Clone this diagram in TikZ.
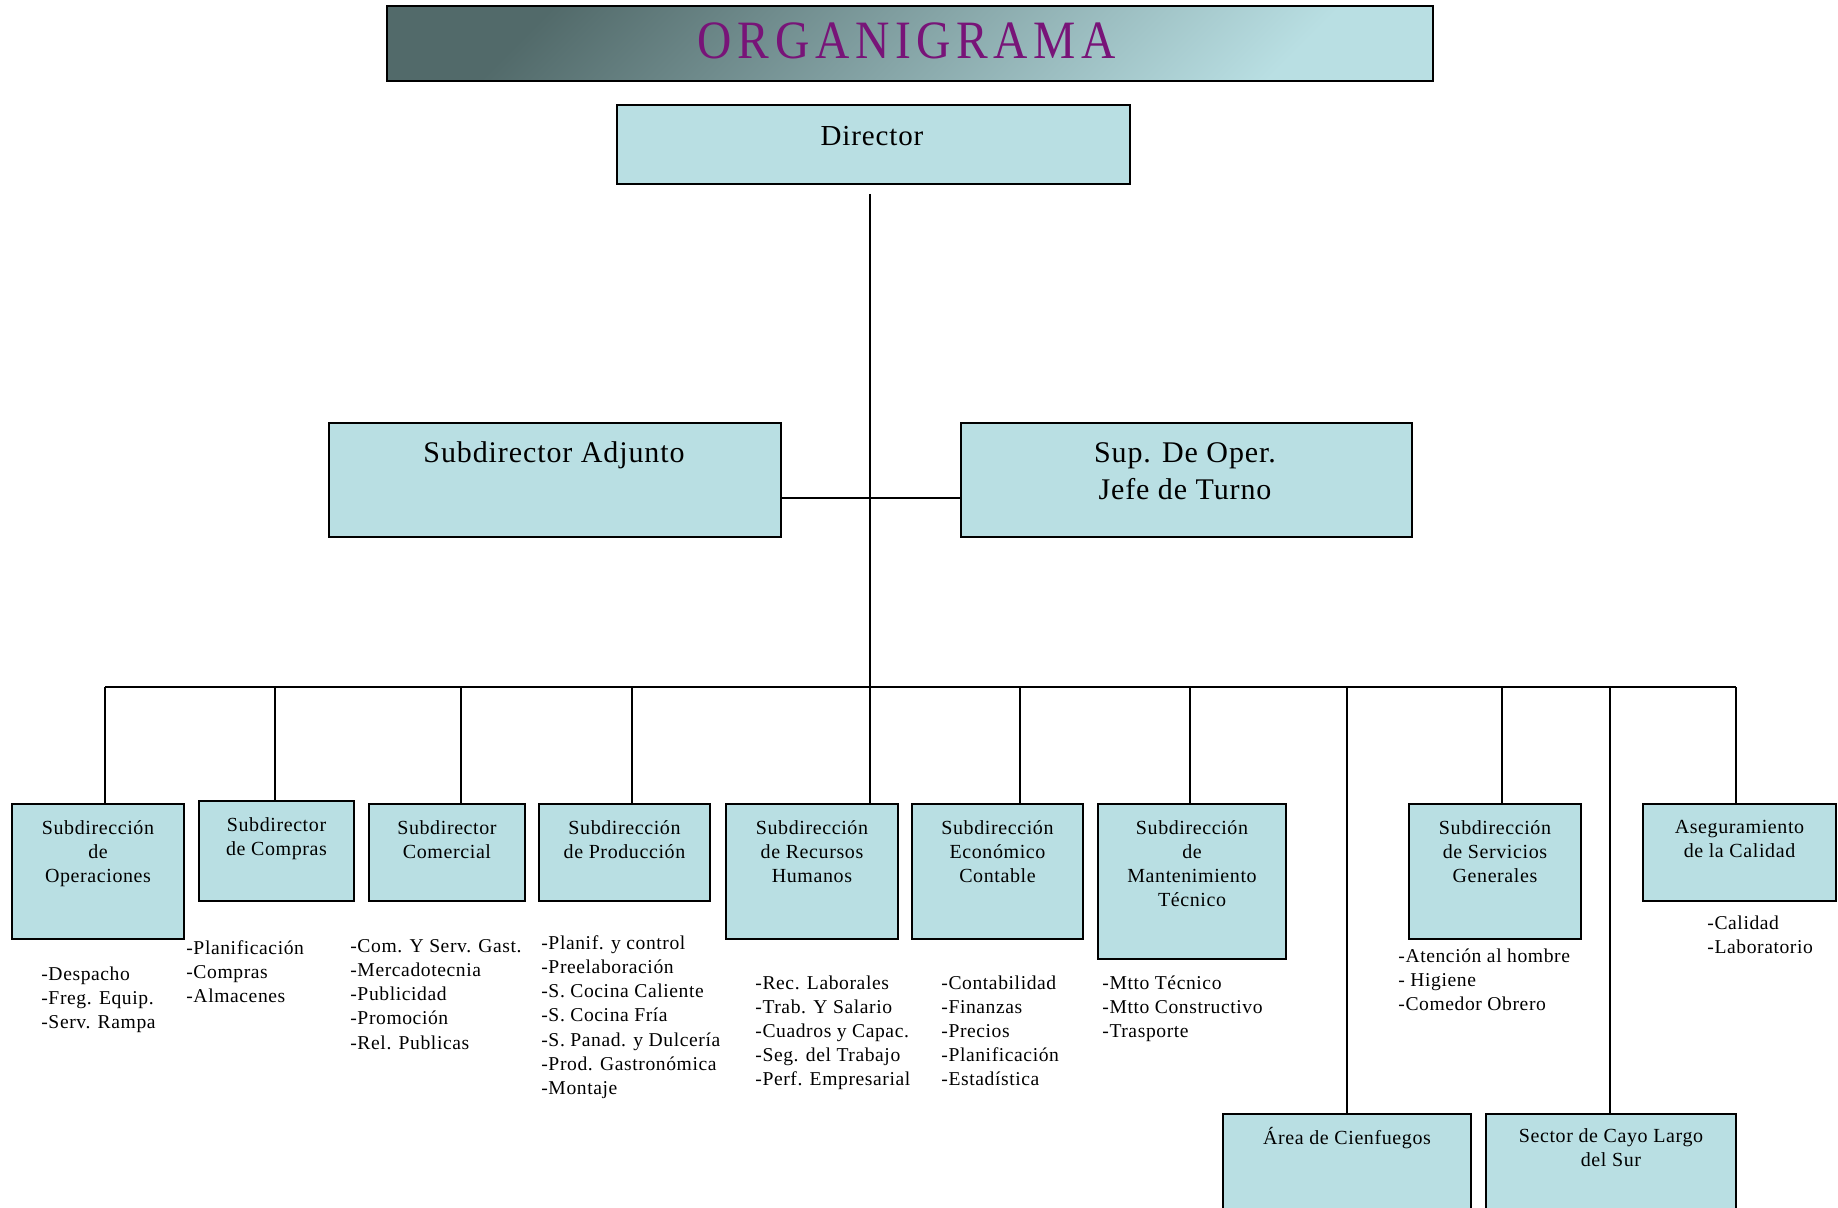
\documentclass[tikz,border=0pt]{standalone}
\usepackage{fontspec}
\setmainfont{Liberation Serif}[LetterSpace=3]
\definecolor{boxfill}{RGB}{185,223,227}
\definecolor{bannerdark}{RGB}{82,106,106}
\definecolor{bannertext}{RGB}{120,20,120}
\tikzset{
  unit/.style    = {draw, fill=boxfill, line width=1pt, anchor=north west,
                    inner sep=0pt},
  dims/.style 2 args = {minimum width=#1*0.5pt, minimum height=#2*0.5pt},
  banner/.style  = {draw, line width=1pt, anchor=north west, inner sep=0pt,
                    left color=bannerdark, right color=boxfill, shading angle=45},
  head/.style    = {anchor=north, inner sep=0pt, align=center,
                    font=\fontsize{15}{18.5}\selectfont},
  utext/.style   = {anchor=north, inner sep=0pt, align=center, yshift=-8.5pt,
                    font=\fontsize{10}{12}\selectfont},
  tasks/.style   = {anchor=north west, inner sep=0pt, align=left,
                    font=\fontsize{9.8}{12.1}\selectfont},
  link/.style    = {line width=0.8pt}
}
\begin{document}
\begin{tikzpicture}[x=0.5pt, y=-0.5pt]

  \clip (0,0) rectangle (1838,1208);

  \node [banner, dims={1046}{75}] (banner) at (386,5) {};
  \node [font=\fontsize{27}{27}\selectfont\addfontfeature{LetterSpace=12},
         text=bannertext] (title) at (907,41) {\scalebox{0.88}[1]{ORGANIGRAMA}};

  \node [unit, dims={513}{79}] (dir) at (616,104) {};
  \node [head, font=\fontsize{14.5}{16}\selectfont] (dir-t) at (872,126) {Director};
  \node [unit, dims={452}{114}] (adj) at (328,422) {};
  \node [head] (adj-t) at (554,441) {Subdirector Adjunto};
  \node [unit, dims={451}{114}] (sup) at (960,422) {};
  \node [head] (sup-t) at (1185,442) {Sup. De Oper.\\Jefe de Turno};

  \node [unit, dims={172}{135}] (ops)  at (11,803)   {};
  \node [unit, dims={155}{100}] (comp) at (198,800)  {};
  \node [unit, dims={156}{97}]  (com)  at (368,803)  {};
  \node [unit, dims={171}{97}]  (prod) at (538,803)  {};
  \node [unit, dims={172}{135}] (rrhh) at (725,803)  {};
  \node [unit, dims={171}{135}] (eco)  at (911,803)  {};
  \node [unit, dims={188}{155}] (mtto) at (1097,803) {};
  \node [unit, dims={172}{135}] (serv) at (1408,803) {};
  \node [unit, dims={193}{97}]  (cal)  at (1642,803) {};
  \node [unit, dims={248}{120}] (cfg)  at (1222,1113) {};
  \node [unit, dims={250}{120}] (cayo) at (1485,1113) {};

  \node [utext] (ops-t)  at (ops.north)  {Subdirección\\de\\Operaciones};
  \node [utext] (comp-t) at (comp.north) {Subdirector\\de Compras};
  \node [utext] (com-t)  at (com.north)  {Subdirector\\Comercial};
  \node [utext] (prod-t) at (prod.north) {Subdirección\\de Producción};
  \node [utext] (rrhh-t) at (rrhh.north) {Subdirección\\de Recursos\\Humanos};
  \node [utext] (eco-t)  at (eco.north)  {Subdirección\\Económico\\Contable};
  \node [utext] (mtto-t) at (mtto.north) {Subdirección\\de\\Mantenimiento\\Técnico};
  \node [utext] (serv-t) at (serv.north) {Subdirección\\de Servicios\\Generales};
  \node [utext] (cal-t)  at (cal.north)  {Aseguramiento\\de la Calidad};
  \node [utext, yshift=1.5pt] (cfg-t)  at (cfg.north)  {Área de Cienfuegos};
  \node [utext, yshift=1pt] (cayo-t) at (cayo.north) {Sector de Cayo Largo\\del Sur};

  \node [tasks] (ops-l)  at (41,966)   {-Despacho\\-Freg. Equip.\\-Serv. Rampa};
  \node [tasks] (comp-l) at (186,940)  {-Planificación\\-Compras\\-Almacenes};
  \node [tasks] (com-l)  at (350,939)  {-Com. Y Serv. Gast.\\-Mercadotecnia\\-Publicidad\\-Promoción\\-Rel. Publicas};
  \node [tasks] (prod-l) at (541,935)  {-Planif. y control\\-Preelaboración\\-S. Cocina Caliente\\-S. Cocina Fría\\-S. Panad. y Dulcería\\-Prod. Gastronómica\\-Montaje};
  \node [tasks] (rrhh-l) at (755,975)  {-Rec. Laborales\\-Trab. Y Salario\\-Cuadros y Capac.\\-Seg. del Trabajo\\-Perf. Empresarial};
  \node [tasks] (eco-l)  at (941,975)  {-Contabilidad\\-Finanzas\\-Precios\\-Planificación\\-Estadística};
  \node [tasks] (mtto-l) at (1102,975) {-Mtto Técnico\\-Mtto Constructivo\\-Trasporte};
  \node [tasks] (serv-l) at (1398,948) {-Atención al hombre\\- Higiene\\-Comedor Obrero};
  \node [tasks] (cal-l)  at (1707,915) {-Calidad\\-Laboratorio};

  \coordinate (top) at (870,194);
  \coordinate (mid) at (870,498);
  \coordinate (bl) at (105,687);
  \coordinate (br) at (1736,687);
  \draw [link] (top) -- (top |- rrhh.north);
  \draw [link] (adj.east |- mid) -- (sup.west |- mid);
  \draw [link] (bl) -- (br);
  \foreach \x/\n in {105/ops, 275/comp, 461/com, 632/prod, 1020/eco,
                     1190/mtto, 1347/cfg, 1502/serv, 1610/cayo, 1736/cal}
    {
      \coordinate (j-\n) at (\x,687);
      \draw [link] (j-\n) -- (j-\n |- \n.north);
    }
\end{tikzpicture}
\end{document}
